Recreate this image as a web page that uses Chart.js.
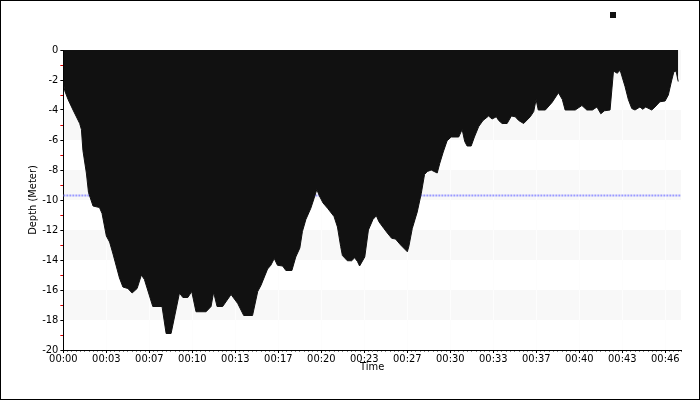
<!DOCTYPE html>
<html>
<head>
<meta charset="utf-8">
<script src="https://cdn.jsdelivr.net/npm/chart.js@4.4.1/dist/chart.umd.min.js"></script>
<style>
  html, body { margin: 0; padding: 0; background: #fff; }
  #frame { width: 700px; height: 400px; box-sizing: border-box; border: 1px solid #000; }
  #frame canvas { display: block; }
</style>
</head>
<body>
<div id="frame"><canvas id="dive"></canvas></div>
<script>
// dive profile, time in seconds, depth in meters (negative = below surface)
const times = [
  0, 6, 22, 45, 76, 84, 91, 107, 117, 138,
  168, 180, 200, 215, 231, 261, 277, 300, 320, 343,
  363, 377, 416, 459, 478, 501, 517, 540, 556, 579,
  597, 617, 664, 687, 699, 715, 741, 780, 811, 839,
  880, 904, 919, 950, 965, 981, 996, 1020, 1035, 1063,
  1081, 1100, 1112, 1128, 1151, 1166, 1179, 1190, 1208, 1229,
  1259, 1275, 1290, 1298, 1321, 1341, 1355, 1368, 1378, 1402,
  1419, 1440, 1456, 1468, 1491, 1507, 1527, 1545, 1569, 1600,
  1607, 1623, 1646, 1665, 1680, 1693, 1711, 1739, 1751, 1767,
  1785, 1804, 1839, 1855, 1867, 1878, 1897, 1912, 1932, 1952,
  1978, 1994, 2014, 2025, 2041, 2064, 2084, 2102, 2118, 2141,
  2172, 2188, 2199, 2209, 2242, 2273, 2303, 2321, 2334, 2381,
  2412, 2435, 2461, 2482, 2500, 2517, 2543, 2559, 2576, 2590,
  2613, 2628, 2644, 2659, 2682, 2695, 2709, 2737, 2752, 2775,
  2799, 2814, 2830, 2840, 2850, 2860
];
const depths = [
  -2.1, -2.7, -3.3, -4.0, -4.9, -5.3, -6.7, -8.2, -9.5, -10.4,
  -10.5, -10.9, -12.4, -12.8, -13.6, -15.2, -15.8, -15.9, -16.2, -15.9,
  -15.0, -15.3, -17.1, -17.1, -18.9, -18.9, -17.8, -16.2, -16.5, -16.5,
  -16.1, -17.45, -17.45, -17.1, -16.15, -17.1, -17.1, -16.3, -16.9, -17.7,
  -17.7, -16.1, -15.7, -14.6, -14.35, -13.9, -14.35, -14.4, -14.7, -14.7,
  -13.8, -13.2, -12.1, -11.3, -10.55, -9.9, -9.3, -9.7, -10.2, -10.55,
  -11.1, -11.8, -13.1, -13.7, -14.05, -14.05, -13.85, -14.1, -14.4, -13.8,
  -12.0, -11.3, -11.05, -11.45, -11.9, -12.2, -12.55, -12.6, -13.0, -13.45,
  -13.1, -11.9, -10.8, -9.55, -8.3, -8.1, -8.0, -8.2, -7.55, -6.8,
  -6.05, -5.8, -5.8, -5.3, -6.1, -6.4, -6.4, -5.8, -5.1, -4.7,
  -4.4, -4.6, -4.45, -4.7, -4.9, -4.9, -4.4, -4.45, -4.7, -4.9,
  -4.45, -4.1, -3.3, -4.0, -4.0, -3.5, -2.85, -3.3, -4.0, -4.0,
  -3.7, -4.0, -4.0, -3.8, -4.25, -4.05, -4.0, -1.4, -1.55, -1.35,
  -2.45, -3.3, -3.9, -4.0, -3.8, -3.95, -3.8, -4.0, -3.8, -3.45,
  -3.4, -3.0, -2.0, -1.45, -1.4, -2.1
];
const avgDepth = -9.7;
const timeEnd = 2873;
const tickLabels = ['00:00', '00:03', '00:07', '00:10', '00:13', '00:17', '00:20', '00:23',
  '00:27', '00:30', '00:33', '00:37', '00:40', '00:43', '00:46'];
const bands = [[0, -2], [-4, -6], [-8, -10], [-12, -14], [-16, -18]];

// light grey stripes behind the plot
const bandPlugin = {
  id: 'bands',
  beforeDraw(chart) {
    const { ctx, chartArea, scales } = chart;
    ctx.save();
    ctx.fillStyle = '#f8f8f8';
    bands.forEach(([from, to]) => {
      const top = scales.y.getPixelForValue(from);
      const bottom = scales.y.getPixelForValue(to);
      ctx.fillRect(chartArea.left, top, chartArea.right - chartArea.left, bottom - top);
    });
    ctx.restore();
  }
};

Chart.defaults.font.family = "'DejaVu Sans Condensed', 'Liberation Sans', sans-serif";
Chart.defaults.font.size = 11;
Chart.defaults.color = '#000';

const isMajor = c => c.tick && c.tick.value % 200 === 0;

new Chart(document.getElementById('dive'), {
  type: 'line',
  data: {
    datasets: [
      {
        label: 'Depth',
        data: times.map((t, i) => ({ x: t, y: depths[i] })),
        borderColor: '#111',
        backgroundColor: '#111',
        borderWidth: 1,
        fill: 'origin',
        pointRadius: 0,
        tension: 0,
        order: 1
      },
      {
        label: 'Average depth',
        data: [{ x: 0, y: avgDepth }, { x: timeEnd, y: avgDepth }],
        borderColor: '#9a9aff',
        borderWidth: 2,
        borderDash: [2, 1],
        pointRadius: 0,
        fill: false,
        order: 2
      }
    ]
  },
  options: {
    responsive: true,
    maintainAspectRatio: false,
    animation: false,
    layout: { padding: { left: 26, right: 18, top: -51, bottom: 25.6 } },
    plugins: {
      tooltip: { enabled: false },
      legend: {
        position: 'top',
        align: 'end',
        labels: {
          boxWidth: 6,
          boxHeight: 6,
          padding: 40,
          font: { size: 50 },
          filter: item => item.datasetIndex === 0,
          generateLabels: chart => Chart.defaults.plugins.legend.labels.generateLabels(chart)
            .map(l => ({ ...l, text: '', lineWidth: 0 }))
        }
      }
    },
    scales: {
      x: {
        type: 'linear',
        min: 0,
        max: timeEnd,
        bounds: 'data',
        title: { display: true, text: 'Time', padding: { top: -6, bottom: 0 } },
        border: { color: '#000' },
        grid: {
          color: c => isMajor(c) ? '#fdfdfd' : 'rgba(0,0,0,0)',
          tickLength: 3,
          tickColor: c => isMajor(c) ? '#000' : '#888',
          tickBorderDash: c => isMajor(c) ? [] : [1, 2]
        },
        ticks: {
          stepSize: 20,
          autoSkip: false,
          maxRotation: 0,
          includeBounds: false,
          padding: 0,
          callback: v => v % 200 === 0 ? tickLabels[v / 200] : ''
        }
      },
      y: {
        min: -20,
        max: 0,
        title: { display: true, text: 'Depth (Meter)', padding: 0 },
        border: { color: '#000' },
        grid: {
          drawOnChartArea: false,
          tickLength: 3,
          tickColor: c => c.tick && c.tick.value % 2 === 0 ? '#000' : '#e00000'
        },
        ticks: {
          stepSize: 1,
          autoSkip: false,
          padding: 2,
          callback: v => v % 2 === 0 ? String(v) : ''
        }
      }
    }
  },
  plugins: [bandPlugin]
});
</script>
</body>
</html>
